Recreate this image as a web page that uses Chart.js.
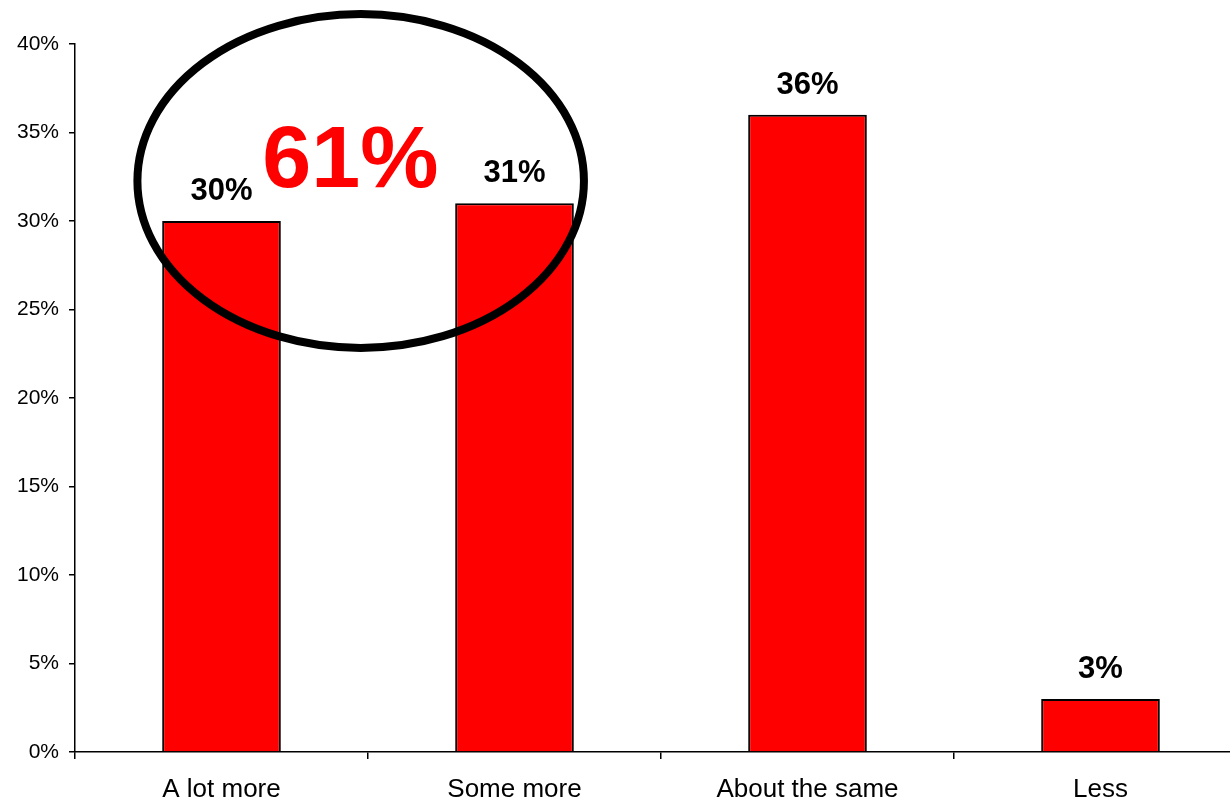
<!DOCTYPE html>
<html>
  <head>
    <title>A lot more / Some more / About the same / Less</title>
    <meta name='viewport' content='width=device-width, initial-scale=1.0'>
    <style>
      html, body { margin: 0px; padding: 0px; background: #ffffff; overflow: hidden; }
      .wrap { width: 1250px; height: 800px; position: relative; }
    </style>
    <script src='https://cdn.jsdelivr.net/npm/chart.js'></script>
  </head>
  <body>
    <div class='wrap'><canvas id='myChart'></canvas></div>
    <script>
      var categories = ['A lot more', 'Some more', 'About the same', 'Less'];
      var shares = [30, 31, 36, 3];
      var yTicks = [0, 5, 10, 15, 20, 25, 30, 35, 40];
      // the two "more" answers get circled and summed
      var circled = [0, 1];

      var FONT = "Arial, 'Liberation Sans', sans-serif";

      // percent labels over each bar, plus the ring round the first two
      var overlay = {
        id: 'overlay',
        afterDatasetsDraw: function(chart) {
          var ctx = chart.ctx;
          var x = chart.scales.x, y = chart.scales.y;
          var bars = chart.getDatasetMeta(0).data;
          ctx.save();
          ctx.fillStyle = '#000';
          ctx.font = 'bold 31px ' + FONT;
          ctx.textAlign = 'center';
          ctx.textBaseline = 'alphabetic';
          bars.forEach(function(b, i) {
            ctx.fillText(shares[i] + '%', b.x, b.y - 21);
          });

          var total = circled.reduce(function(s, i) { return s + shares[i]; }, 0);
          ctx.fillStyle = '#ff0000';
          ctx.font = 'bold 88px ' + FONT;
          ctx.textBaseline = 'middle';
          ctx.fillText(total + '%', x.getPixelForValue(0.44), y.getPixelForValue(33.3));

          var cx = x.getPixelForValue(0.475);
          var cy = y.getPixelForValue(32.26);
          var rx = (x.getPixelForValue(1) - x.getPixelForValue(0)) * 0.762;
          var ry = y.getPixelForValue(0) - y.getPixelForValue(9.43);
          ctx.beginPath();
          ctx.ellipse(cx, cy, rx, ry, 0, 0, Math.PI * 2);
          ctx.lineWidth = 8;
          ctx.strokeStyle = '#000';
          ctx.stroke();
          ctx.restore();
        }
      };

      var ctx = document.getElementById('myChart').getContext('2d');
      var myChart = new Chart(ctx, {
        type: 'bar',
        data: {
          labels: categories,
          datasets: [{
            data: shares,
            backgroundColor: '#ff0000',
            borderColor: '#000000',
            borderWidth: 2,
            barPercentage: 0.405,
            categoryPercentage: 1.0
          }]
        },
        options: {
          responsive: true,
          maintainAspectRatio: false,
          animation: false,
          layout: { padding: { top: 44, right: 3, left: 0, bottom: 0 } },
          plugins: {
            legend: { display: false },
            tooltip: { enabled: false }
          },
          scales: {
            x: {
              grid: { drawOnChartArea: false, color: '#000', tickLength: 7, lineWidth: 1.5, offset: true },
              border: { color: '#000', width: 1.5 },
              ticks: { color: '#000', font: { family: FONT, size: 26 }, padding: 15, maxRotation: 0 },
              afterFit: function(s) { s.height = 48; }
            },
            y: {
              min: 0,
              max: 40,
              afterBuildTicks: function(s) { s.ticks = yTicks.map(function(v) { return { value: v }; }); },
              grid: { drawOnChartArea: false, color: '#000', tickLength: 6, lineWidth: 1.5 },
              border: { color: '#000', width: 1.5 },
              ticks: {
                color: '#000',
                font: { family: FONT, size: 21 },
                padding: 10,
                callback: function(v) { return v + '%'; }
              },
              afterFit: function(s) { s.width = 75; }
            }
          }
        },
        plugins: [overlay]
      });
    </script>
  </body>
</html>
